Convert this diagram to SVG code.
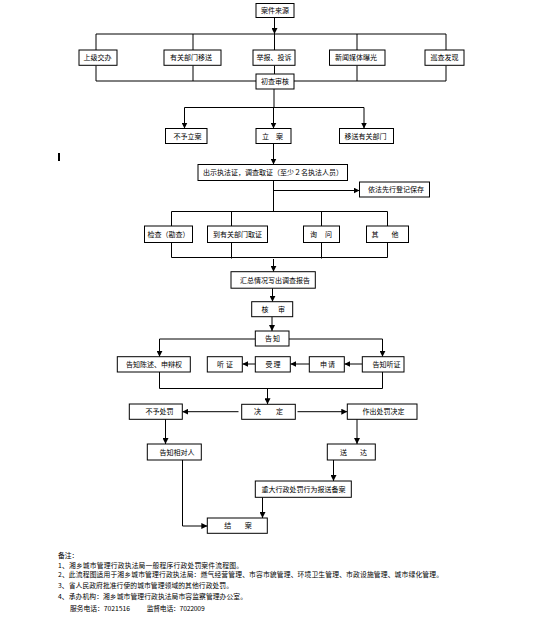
<svg xmlns="http://www.w3.org/2000/svg" width="560" height="635" viewBox="0 0 560 635">
<style>
.b{fill:#fff;stroke:#000;stroke-width:1}
.t{font-family:"Noto Sans CJK SC","Noto Sans CJK JP",sans-serif;font-size:7px;fill:#000;text-anchor:middle}
.s{text-anchor:start}
.n{font-family:"Noto Sans CJK SC","Noto Sans CJK JP",sans-serif;font-size:6.8px;fill:#000}
#connectors path{stroke:#000;stroke-width:1;fill:none}
.a{marker-end:url(#ah)}
</style>
<defs>
<marker id="ah" markerUnits="userSpaceOnUse" markerWidth="6" markerHeight="6" refX="6" refY="3" orient="auto">
<path d="M0,0 L6,3 L0,6 z" fill="#000"/>
</marker>
</defs>
<rect width="560" height="635" fill="#fff"/>
<rect x="58" y="153" width="2" height="8" fill="#000"/>

<g id="connectors">
<path class="a" d="M274.5,17.5 V34"/>
<path d="M96,34 H446 M96,34 V50 M193,34 V50 M274.5,34 V50 M357,34 V50 M446,34 V50"/>
<path d="M96,65.5 V81 H256 M294,81 H446 V65.5 M193,65.5 V81 M357,65.5 V81 M274.5,65.5 V74"/>
<path d="M274,89 V107.5 M184.5,107.5 H364"/>
<path class="a" d="M184.5,107.5 V128.5"/>
<path class="a" d="M273.5,107.5 V128.5"/>
<path class="a" d="M364,107.5 V128.5"/>
<path class="a" d="M273.5,143.5 V164.5"/>
<path d="M273.5,180.5 V211.5 M171.5,211.5 H387.5 M171.5,211.5 V226 M231.5,211.5 V226 M321.5,211.5 V226 M387.5,211.5 V226"/>
<path class="a" d="M273.5,190.5 H359.5"/>
<path d="M171.5,242.5 V257.5 H387.5 V242.5 M231.5,242.5 V258.5 M321.5,242.5 V258.5"/>
<path class="a" d="M273.5,259 V271.7"/>
<path class="a" d="M272.5,288.2 V301.7"/>
<path class="a" d="M272,316.7 V331"/>
<path class="a" d="M255.3,339 H159.5 V356.7"/>
<path class="a" d="M289,339 H382.5 V356.7"/>
<path class="a" d="M362.3,364 H344.3"/>
<path class="a" d="M309.3,364 H290.3"/>
<path class="a" d="M255.3,364 H242.3"/>
<path d="M159.5,372 V388.5 H382.5 V372"/>
<path class="a" d="M267.5,388.5 V404.3"/>
<path class="a" d="M238.5,411.7 H182.3"/>
<path class="a" d="M297.5,411.7 H347.3"/>
<path class="a" d="M165.5,419.3 V444"/>
<path class="a" d="M357,419.3 V444"/>
<path class="a" d="M333.5,460 V481"/>
<path class="a" d="M262.5,497.3 V518"/>
<path class="a" d="M182.5,460 V526 H207.3"/>
</g>

<g id="n_source"><rect class="b" x="256" y="3.5" width="38" height="14"/><text class="t" x="275" y="13">案件来源</text></g>
<g id="n_b1"><rect class="b" x="79" y="50" width="38" height="15.3"/><text class="t" x="97.5" y="60.2">上级交办</text></g>
<g id="n_b2"><rect class="b" x="164" y="50" width="57" height="15.3"/><text class="t" x="191" y="60.2">有关部门移送</text></g>
<g id="n_b3"><rect class="b" x="253" y="50" width="42" height="15.3"/><text class="t" x="274" y="60.2">举报、投诉</text></g>
<g id="n_b4"><rect class="b" x="329.5" y="50" width="55.5" height="15.3"/><text class="t" x="356" y="60.2">新闻媒体曝光</text></g>
<g id="n_b5"><rect class="b" x="425" y="50" width="39" height="15.3"/><text class="t" x="444.5" y="60.2">巡查发现</text></g>
<g id="n_c"><rect class="b" x="256" y="74" width="38" height="15"/><text class="t" x="275" y="84">初查审核</text></g>
<g id="n_d1"><rect class="b" x="165.5" y="128.5" width="41.5" height="15"/><text class="t" x="187.5" y="138.5">不予立案</text></g>
<g id="n_d2"><rect class="b" x="256" y="128.5" width="35" height="15"/><text class="t s" x="262" y="138.5" textLength="21">立案</text></g>
<g id="n_d3"><rect class="b" x="339.5" y="128.5" width="54" height="15"/><text class="t" x="365.5" y="138.5">移送有关部门</text></g>
<g id="n_e"><rect class="b" x="198" y="164.5" width="149.5" height="16"/><text class="t" x="273" y="175">出示执法证，调查取证（至少２名执法人员）</text></g>
<g id="n_f"><rect class="b" x="359.5" y="182" width="70" height="15"/><text class="t" x="396" y="192">依法先行登记保存</text></g>
<g id="n_g1"><rect class="b" x="144.5" y="226" width="48" height="16.5"/><text class="t" x="168.5" y="236.8">检查（勘查）</text></g>
<g id="n_g2"><rect class="b" x="207.5" y="226" width="60" height="16.5"/><text class="t" x="237.5" y="236.8">到有关部门取证</text></g>
<g id="n_g3"><rect class="b" x="303.5" y="226" width="36" height="16.5"/><text class="t s" x="310" y="236.8" textLength="22">询问</text></g>
<g id="n_g4"><rect class="b" x="366.5" y="226" width="42" height="16.5"/><text class="t s" x="371.5" y="236.8" textLength="27">其他</text></g>
<g id="n_h"><rect class="b" x="231" y="271.7" width="84.3" height="16.5"/><text class="t" x="275" y="282.5">汇总情况写出调查报告</text></g>
<g id="n_i"><rect class="b" x="251.7" y="301.7" width="41" height="15"/><text class="t s" x="261.5" y="311.7" textLength="23.5">核审</text></g>
<g id="n_j"><rect class="b" x="255.3" y="331" width="33.7" height="15"/><text class="t s" x="265" y="341" textLength="15">告知</text></g>
<g id="n_k1"><rect class="b" x="117.3" y="356.7" width="73" height="15.3"/><text class="t" x="154" y="366.9">告知陈述、申辩权</text></g>
<g id="n_k2"><rect class="b" x="207.3" y="356.7" width="35" height="15.3"/><text class="t s" x="217" y="366.9" textLength="16">听证</text></g>
<g id="n_k3"><rect class="b" x="255.3" y="356.7" width="35" height="15.3"/><text class="t s" x="265.5" y="366.9" textLength="15">受理</text></g>
<g id="n_k4"><rect class="b" x="309.3" y="356.7" width="35" height="15.3"/><text class="t s" x="320" y="366.9" textLength="15">申请</text></g>
<g id="n_k5"><rect class="b" x="362.3" y="356.7" width="41.7" height="15.3"/><text class="t" x="386.5" y="366.9">告知听证</text></g>
<g id="n_l"><rect class="b" x="241.7" y="404.3" width="53.6" height="15"/><text class="t s" x="254" y="414.3" textLength="29">决定</text></g>
<g id="n_l1"><rect class="b" x="129.3" y="404" width="53" height="15.3"/><text class="t" x="159.5" y="414.2">不予处罚</text></g>
<g id="n_l2"><rect class="b" x="347.3" y="404" width="69.7" height="15.3"/><text class="t" x="383.5" y="414.2">作出处罚决定</text></g>
<g id="n_m1"><rect class="b" x="147.3" y="444" width="54" height="16"/><text class="t" x="177" y="454.5">告知相对人</text></g>
<g id="n_m2"><rect class="b" x="327.3" y="444" width="48" height="16"/><text class="t s" x="340" y="454.5" textLength="27">送达</text></g>
<g id="n_n"><rect class="b" x="255.3" y="481" width="96" height="16.3"/><text class="t" x="303.5" y="491.5">重大行政处罚行为报送备案</text></g>
<g id="n_o"><rect class="b" x="207.3" y="518" width="60" height="15.3"/><text class="t s" x="224.3" y="528.2" textLength="27.5">结案</text></g>

<g id="notes">
<text class="n" x="58" y="558">备注：</text>
<text class="n" x="58" y="567.5" textLength="185">1、湘乡城市管理行政执法局一般程序行政处罚案件流程图。</text>
<text class="n" x="58" y="577" textLength="385">2、此流程图适用于湘乡城市管理行政执法局：燃气经营管理、市容市貌管理、环境卫生管理、市政设施管理、城市绿化管理。</text>
<text class="n" x="58" y="587.5" textLength="175">3、省人民政府批准行使的城市管理领域的其他行政处罚。</text>
<text class="n" x="58" y="599" textLength="189">4、承办机构：湘乡城市管理行政执法局市容监察管理办公室。</text>
<text class="n" x="70" y="610.5" textLength="60">服务电话：7021516</text>
<text class="n" x="146.7" y="610.5" textLength="58">监督电话：7022009</text>
</g>
</svg>
